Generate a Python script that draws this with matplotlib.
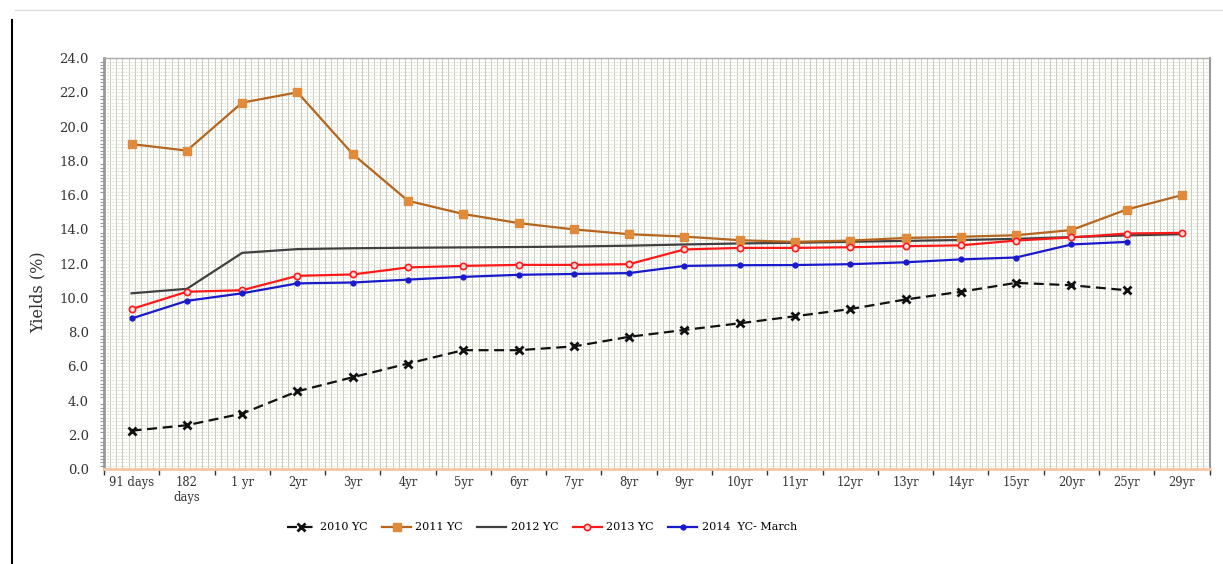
import numpy as np
import matplotlib.pyplot as plt
from matplotlib.lines import Line2D
from matplotlib.ticker import MultipleLocator, FixedLocator

maturities = ['91 days', '182\ndays', '1 yr', '2yr', '3yr', '4yr', '5yr', '6yr', '7yr', '8yr',
              '9yr', '10yr', '11yr', '12yr', '13yr', '14yr', '15yr', '20yr', '25yr', '29yr']

yc_2010 = [2.25, 2.57, 3.25, 4.55, 5.37, 6.17, 6.95, 6.95, 7.17, 7.73,
           8.13, 8.52, 8.93, 9.35, 9.91, 10.36, 10.88, 10.74, 10.45, np.nan]
yc_2011 = [18.98, 18.6, 21.4, 22.0, 18.4, 15.67, 14.9, 14.37, 14.0, 13.72,
           13.58, 13.37, 13.27, 13.35, 13.5, 13.57, 13.66, 13.96, 15.16, 16.0]
yc_2012 = [10.27, 10.53, 12.63, 12.85, 12.9, 12.93, 12.95, 12.97, 13.0, 13.05,
           13.12, 13.18, 13.22, 13.28, 13.33, 13.38, 13.45, 13.55, 13.65, 13.72]
yc_2013 = [9.35, 10.36, 10.45, 11.29, 11.37, 11.78, 11.87, 11.93, 11.93, 11.97,
           12.83, 12.92, 12.92, 12.96, 13.02, 13.07, 13.35, 13.53, 13.76, 13.8]
yc_2014 = [8.8, 9.83, 10.27, 10.85, 10.9, 11.07, 11.23, 11.35, 11.4, 11.45,
           11.87, 11.91, 11.92, 11.97, 12.08, 12.25, 12.36, 13.12, 13.27, np.nan]

serif = 'DejaVu Serif'
x = np.arange(len(maturities))

fig = plt.figure(figsize=(12.23, 5.64), dpi=100)
ax = fig.add_axes([0.085, 0.168, 0.904, 0.729])
ax.set_facecolor('white')

ax.plot(x, yc_2010, color='#111111', linestyle=(0, (4.5, 2.5)), linewidth=1.6,
        marker='x', markersize=5.5, markeredgewidth=2.0, label='2010 YC', zorder=4)
ax.plot(x, yc_2011, color='#b5651d', linewidth=1.6, marker='s', markersize=5.5,
        markerfacecolor='#e08a3c', markeredgecolor='#e08a3c', label='2011 YC', zorder=4)
ax.plot(x, yc_2012, color='#404040', linewidth=1.6, label='2012 YC', zorder=3)
ax.plot(x, yc_2013, color='#ff1a1a', linewidth=1.6, marker='o', markersize=4.5,
        markerfacecolor='#ffe0e0', markeredgecolor='#ff1a1a', markeredgewidth=1.2,
        label='2013 YC', zorder=4)
ax.plot(x, yc_2014, color='#1a1acc', linewidth=1.6, marker='o', markersize=3.5,
        markerfacecolor='#1a1acc', markeredgecolor='#1a1acc', label='2014  YC- March', zorder=4)

ax.set_xlim(-0.5, len(maturities) - 0.5)
ax.set_ylim(0, 24)

ax.xaxis.set_major_locator(FixedLocator(np.arange(-0.5, len(maturities), 1)))
ax.xaxis.set_minor_locator(FixedLocator(x))
ax.set_xticklabels([])
ax.set_xticklabels(maturities, minor=True)
ax.tick_params(axis='x', which='major', length=4, width=1.0, color='#333333')
ax.tick_params(axis='x', which='minor', length=0, labelsize=8.3, pad=5)

ax.yaxis.set_minor_locator(MultipleLocator(0.2))
ax.set_yticks(np.arange(0, 24.1, 2))
ax.set_yticklabels([f'{v:.1f}' for v in np.arange(0, 24.1, 2)])
ax.tick_params(axis='y', which='major', length=0, labelsize=9.5, pad=11)
ax.tick_params(axis='y', which='minor', length=3, width=0.8, color='#999999')

for lab in ax.get_xticklabels(minor=True) + ax.get_yticklabels():
    lab.set_family(serif)
    lab.set_color('#333333')

# dense grid
for v in np.arange(-0.5, len(maturities) - 0.5, 1 / 9):
    ax.axvline(v, color='#c8cdb5', linewidth=0.7, zorder=1)
for h in np.arange(0.2, 24, 0.2):
    ax.axhline(h, color='#d8dacb', linewidth=0.6, linestyle=(0, (2, 1.2)), zorder=1)

ax.spines['left'].set_color('#999999')
ax.spines['left'].set_linewidth(2.0)
ax.spines['right'].set_color('#999999')
ax.spines['right'].set_linewidth(1.5)
ax.spines['top'].set_color('#aaaaaa')
ax.spines['top'].set_linewidth(1.0)
ax.spines['bottom'].set_color('#f7c6a3')
ax.spines['bottom'].set_linewidth(2.0)

ax.set_ylabel('Yields (%)', family=serif, fontsize=11.5, color='#333333')
ax.yaxis.set_label_coords(-0.052, 0.43)

ax.legend(loc='upper center', bbox_to_anchor=(0.396, -0.105), ncol=5, frameon=False,
          handlelength=2.6, columnspacing=1.3, handletextpad=0.4,
          prop={'family': serif, 'size': 8})

fig.add_artist(Line2D([0.0098, 0.0098], [0.0, 0.965], color='black', linewidth=1.5))
fig.add_artist(Line2D([0.012, 1.0], [0.982, 0.982], color='#dddddd', linewidth=1.0))

fig.savefig('out.png', dpi=100)
